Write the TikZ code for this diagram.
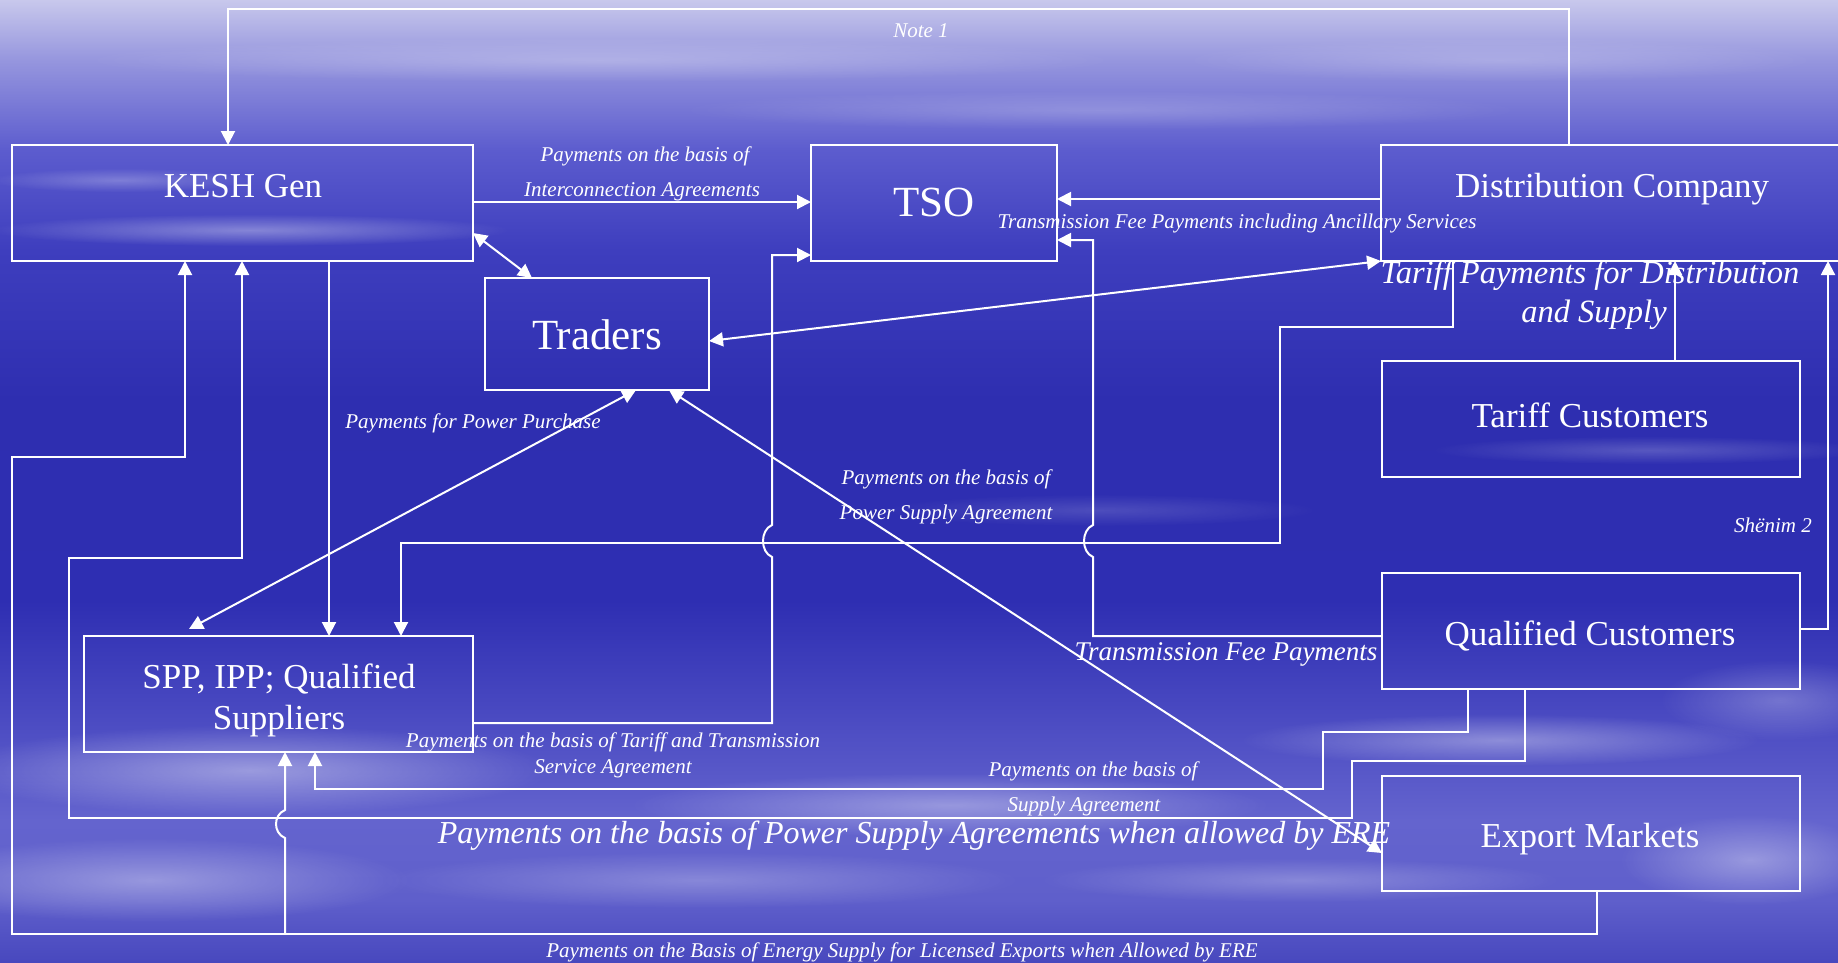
\documentclass[tikz,border=0pt]{standalone}
\usepackage{fontspec}
\setmainfont{Liberation Serif}
\usetikzlibrary{arrows.meta,fadings}

\definecolor{bgA}{RGB}{72,72,190}
\definecolor{bgB}{RGB}{95,95,203}
\definecolor{bgC}{RGB}{100,100,206}
\definecolor{bgD}{RGB}{75,75,194}
\definecolor{bgE}{RGB}{46,46,178}
\definecolor{bgF}{RGB}{46,46,176}
\definecolor{bgG}{RGB}{62,62,190}
\definecolor{bgH}{RGB}{92,92,206}
\definecolor{bgI}{RGB}{150,150,222}
\definecolor{bgJ}{RGB}{200,200,236}

\pgfdeclareverticalshading{bgshade}{100bp}{color(0bp)=(bgA); color(25bp)=(bgA); color(28.22bp)=(bgB); color(32.38bp)=(bgC); color(37.58bp)=(bgD); color(43.81bp)=(bgE); color(54.21bp)=(bgF); color(62.01bp)=(bgG); color(67.2bp)=(bgH); color(71.88bp)=(bgI); color(75bp)=(bgJ); color(100bp)=(bgJ)}

\tikzfading[name=softcloud, inner color=transparent!0, outer color=transparent!100]

\tikzset{
  ln/.style={draw=white, line width=2pt},
  arr/.style={ln, -{Triangle[length=14pt,width=14pt]}},
  darr/.style={ln, {Triangle[length=14pt,width=14pt]}-{Triangle[length=14pt,width=14pt]}},
  box/.style={draw=white, line width=2pt, inner sep=0pt, outer sep=0pt},
  boxtxt/.style={text=white, font=\fontsize{35}{40}\selectfont, anchor=base, inner sep=0pt},
  boxtxtL/.style={boxtxt, font=\fontsize{43}{48}\selectfont},
  lbl/.style={text=white, font=\itshape\fontsize{21}{24}\selectfont, anchor=base, inner sep=0pt},
  lblM/.style={lbl, font=\itshape\fontsize{27}{30}\selectfont},
  lblL/.style={lbl, font=\itshape\fontsize{32.5}{36}\selectfont},
  lblX/.style={lbl, font=\itshape\fontsize{32}{36}\selectfont},
  cloud/.style={fill=white, path fading=softcloud},
}

\begin{document}
\begin{tikzpicture}[x=1pt,y=-1pt]
\useasboundingbox (0,0) rectangle (1838,962);
\clip (0,0) rectangle (1838,962);
\fill[shading=bgshade] (0,0) rectangle (1838,962);

% cloud streaks
\fill[cloud, fill opacity=0.35] (250,230) ellipse (260 and 16);
\fill[cloud, fill opacity=0.25] (120,180) ellipse (130 and 12);
\fill[cloud, fill opacity=0.25] (600,60) ellipse (520 and 22);
\fill[cloud, fill opacity=0.20] (1100,110) ellipse (420 and 20);
\fill[cloud, fill opacity=0.20] (1500,60) ellipse (320 and 22);
\fill[cloud, fill opacity=0.20] (1650,450) ellipse (220 and 14);
\fill[cloud, fill opacity=0.15] (1100,510) ellipse (220 and 16);
\fill[cloud, fill opacity=0.40] (250,770) ellipse (300 and 45);
\fill[cloud, fill opacity=0.35] (150,880) ellipse (260 and 42);
\fill[cloud, fill opacity=0.25] (700,880) ellipse (320 and 28);
\fill[cloud, fill opacity=0.35] (950,805) ellipse (320 and 32);
\fill[cloud, fill opacity=0.35] (1500,740) ellipse (260 and 26);
\fill[cloud, fill opacity=0.25] (1300,880) ellipse (260 and 22);
\fill[cloud, fill opacity=0.35] (1750,860) ellipse (130 and 45);
\fill[cloud, fill opacity=0.25] (1780,700) ellipse (120 and 40);

% boxes
\node[box, minimum width=461pt, minimum height=116pt] (kesh) at (242.5,203) {};
\node[box, minimum width=246pt, minimum height=116pt] (tso) at (934,203) {};
\node[box, minimum width=469pt, minimum height=116pt] (dist) at (1615.5,203) {};
\node[box, minimum width=224pt, minimum height=112pt] (traders) at (597,334) {};
\node[box, minimum width=418pt, minimum height=116pt] (tariff) at (1591,419) {};
\node[box, minimum width=418pt, minimum height=116pt] (qual) at (1591,631) {};
\node[box, minimum width=418pt, minimum height=115pt] (export) at (1591,833.5) {};
\node[box, minimum width=389pt, minimum height=116pt] (spp) at (278.5,694) {};

% box texts
\node[boxtxt] (keshT) at (243,197) {KESH Gen};
\node[boxtxtL] (tsoT) at (934,216) {TSO};
\node[boxtxt] (distT) at (1612,197) {Distribution Company};
\node[boxtxtL] (tradersT) at (597,349) {Traders};
\node[boxtxt] (tariffT) at (1590,427) {Tariff Customers};
\node[boxtxt] (qualT) at (1590,645) {Qualified Customers};
\node[boxtxt] (exportT) at (1590,847) {Export Markets};
\node[boxtxt] (sppT1) at (279,688) {SPP, IPP; Qualified};
\node[boxtxt] (sppT2) at (279,729) {Suppliers};

% free-end coordinates
\coordinate (sppTip) at (189,629);
\coordinate (brA) at (285,934);

% connectors
% Note 1
\draw[arr] (1569,0 |- dist.north) -- (1569,9) -- (228,9) -- (228,0 |- kesh.north);
% KESH -> TSO
\draw[arr] (kesh.east |- 0,202) -- (tso.west |- 0,202);
% KESH <-> Traders
\draw[darr] (kesh.east |- 0,233) -- (532,0 |- traders.north);
% Dist -> TSO
\draw[arr] (dist.west |- 0,199) -- (tso.east |- 0,199);
% Qualified -> TSO
\draw[arr] (qual.west |- 0,636) -- (1093,636) -- (1093,557) .. controls (1081,552) and (1081,530) .. (1093,525) -- (1093,240) -- (tso.east |- 0,240);
% Traders <-> Dist
\draw[darr] (traders.east |- 0,341) -- (dist.south west);
% Tariff -> Dist
\draw[arr] (1675,0 |- tariff.north) -- (1675,0 |- dist.south);
% Qualified -> Dist (Shenim 2)
\draw[arr] (qual.east |- 0,629) -- (1828,629) -- (1828,0 |- dist.south);
% Dist -> SPP
\draw[arr] (1453,0 |- dist.south) -- (1453,327) -- (1280,327) -- (1280,543) -- (401,543) -- (401,0 |- spp.north);
% SPP -> TSO
\draw[arr] (spp.east |- 0,723) -- (772,723) -- (772,557) .. controls (760,552) and (760,530) .. (772,525) -- (772,255) -- (tso.west |- 0,255);
% KESH -> SPP
\draw[arr] (329,0 |- kesh.south) -- (329,0 |- spp.north);
% Traders <-> SPP
\draw[darr] (636,0 |- traders.south) -- (sppTip);
% Traders <-> Export
\draw[darr] (669,0 |- traders.south) -- (export.west |- 0,853);
% Export -> KESH
\draw[arr] (1597,0 |- export.south) -- (1597,934) -- (12,934) -- (12,457) -- (185,457) -- (185,0 |- kesh.south);
\draw[arr] (brA) -- (285,838) .. controls (273,833) and (273,815) .. (285,810) -- (285,0 |- spp.south);
% Qualified -> KESH
\draw[arr] (1525,0 |- qual.south) -- (1525,761) -- (1352,761) -- (1352,818) -- (69,818) -- (69,558) -- (242,558) -- (242,0 |- kesh.south);
% Qualified -> SPP
\draw[arr] (1468,0 |- qual.south) -- (1468,732) -- (1323,732) -- (1323,789) -- (315,789) -- (315,0 |- spp.south);

% labels
\node[lbl] (lNote) at (921,37) {Note 1};
\node[lbl] (l1a) at (645,161) {Payments on the basis of};
\node[lbl] (l1b) at (642,196) {Interconnection Agreements};
\node[lbl] (l2) at (1237,228) {Transmission Fee Payments including Ancillary Services};
\node[lblL] (l3a) at (1590,283) {Tariff Payments for Distribution};
\node[lblL] (l3b) at (1594,322) {and Supply};
\node[lbl] (l4) at (473,428) {Payments for Power Purchase};
\node[lbl] (l5a) at (946,484) {Payments on the basis of};
\node[lbl] (l5b) at (946,519) {Power Supply Agreement};
\node[lbl] (l6) at (1773,532) {Shënim 2};
\node[lblM] (l7) at (1226,660) {Transmission Fee Payments};
\node[lbl] (l8a) at (613,747) {Payments on the basis of Tariff and Transmission};
\node[lbl] (l8b) at (613,773) {Service Agreement};
\node[lbl] (l9a) at (1093,776) {Payments on the basis of};
\node[lbl] (l9b) at (1084,811) {Supply Agreement};
\node[lblX] (l10) at (914,843) {Payments on the basis of Power Supply Agreements when allowed by ERE};
\node[lbl] (l11) at (902,957) {Payments on the Basis of Energy Supply for Licensed Exports when Allowed by ERE};
\end{tikzpicture}
\end{document}
